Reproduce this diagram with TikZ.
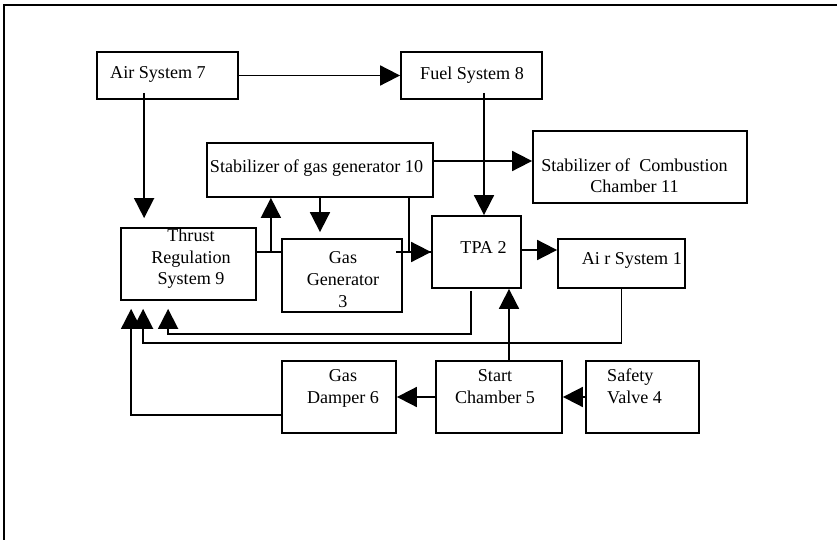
\documentclass[tikz,border=0pt]{standalone}
\usepackage{fontspec}
\setmainfont{Liberation Serif}
\usepackage{tikz}
\usetikzlibrary{arrows.meta}
\tikzset{
  box/.style={draw,line width=1.8pt,inner sep=0pt},
  txt/.style={font=\fontsize{18.1}{21.7}\selectfont,align=center,inner sep=0pt},
  ln/.style={line width=1.8pt},
  arr/.style={line width=1.8pt,-{Triangle[length=20pt,width=20pt]}}
}
\begin{document}
\begin{tikzpicture}[x=1pt,y=-1pt]
\useasboundingbox (0,0) rectangle (837,540);
\draw[line width=2.4pt](4,560)--(4,5)--(860,5);
\node[box,minimum width=141,minimum height=47](air7)at(167.5,75.5){};
\node[box,minimum width=141,minimum height=47](fuel8)at(471.5,75.5){};
\node[box,minimum width=226,minimum height=54](stab10)at(320,170){};
\node[box,minimum width=214,minimum height=72](stab11)at(640,167){};
\node[box,minimum width=135,minimum height=72](trs9)at(188.5,264){};
\node[box,minimum width=120,minimum height=73](gasgen3)at(342,275.5){};
\node[box,minimum width=89,minimum height=72](tpa2)at(476.5,252){};
\node[box,minimum width=127,minimum height=49](air1)at(621.5,263.5){};
\node[box,minimum width=114,minimum height=72](damper6)at(339,397){};
\node[box,minimum width=126,minimum height=72](start5)at(499,397){};
\node[box,minimum width=113,minimum height=72](valve4)at(642.5,397){};
\node[txt,anchor=west](air7t)at(110,74.75){Air System 7};
\node[txt](fuel8t)at(472,74.75){Fuel System 8};
\node[txt](stab10t)at(316.5,167.7){Stabilizer of gas generator 10};
\node[txt](stab11t)at(634.5,175.75){Stabilizer of\ \ Combustion\\Chamber 11};
\node[txt](trs9t)at(191,258.7){Thrust\\Regulation\\System 9};
\node[txt](gasgen3t)at(343,279.6){Gas\\Generator\\3};
\node[txt](tpa2t)at(483.5,247.75){TPA 2};
\node[txt,anchor=east](air1t)at(682,260.7){Ai r System 1};
\node[txt](damper6t)at(343,388.2){Gas\\Damper 6};
\node[txt](start5t)at(495,386.3){Start\\Chamber 5};
\node[txt,anchor=west,align=left](valve4t)at(607,386.3){Safety\\Valve 4};
\draw[arr](air7)--(fuel8);
\draw[arr]([xshift=24pt,yshift=7pt]trs9.north west |- air7.south)--([xshift=24pt,yshift=9pt]trs9.north west);
\draw[arr]([xshift=7.5pt,yshift=7pt]tpa2.north |- fuel8.south)--([xshift=7.5pt]tpa2.north);
\draw[arr]([yshift=9pt]stab10.east)--([yshift=9pt]stab10.east -| stab11.west);
\draw[ln]([yshift=12pt]trs9.east)--([yshift=12pt]trs9.east -| gasgen3.west);
\draw[arr]([xshift=14pt,yshift=12pt]trs9.east)--([xshift=14pt]trs9.east |- stab10.south);
\draw[arr,shorten >=6pt](stab10.south)--(stab10.south |- gasgen3.north);
\draw[ln]([xshift=-25pt]stab10.south east)|-(tpa2.west);
\draw[arr]([xshift=-7pt]gasgen3.east |- tpa2.west)--(tpa2.west);
\draw[arr]([yshift=2pt]tpa2.east)--([yshift=2pt]tpa2.east -| air1.west);
\draw[arr]([xshift=-5.5pt,yshift=-2pt]tpa2.south)|-([xshift=48pt,yshift=-33pt]trs9.south west)--([xshift=48pt,yshift=-8pt]trs9.south west);
\draw[arr](air1.south)--++(0,54)-|([xshift=23pt,yshift=-8pt]trs9.south west);
\draw[arr]([yshift=-18pt]damper6.west)-|([xshift=11pt,yshift=-8pt]trs9.south west);
\draw[arr]([xshift=10pt]start5.north)--([xshift=10pt]start5.north |- tpa2.south);
\draw[arr](valve4)--(start5);
\draw[arr](start5)--(damper6);
\end{tikzpicture}
\end{document}
